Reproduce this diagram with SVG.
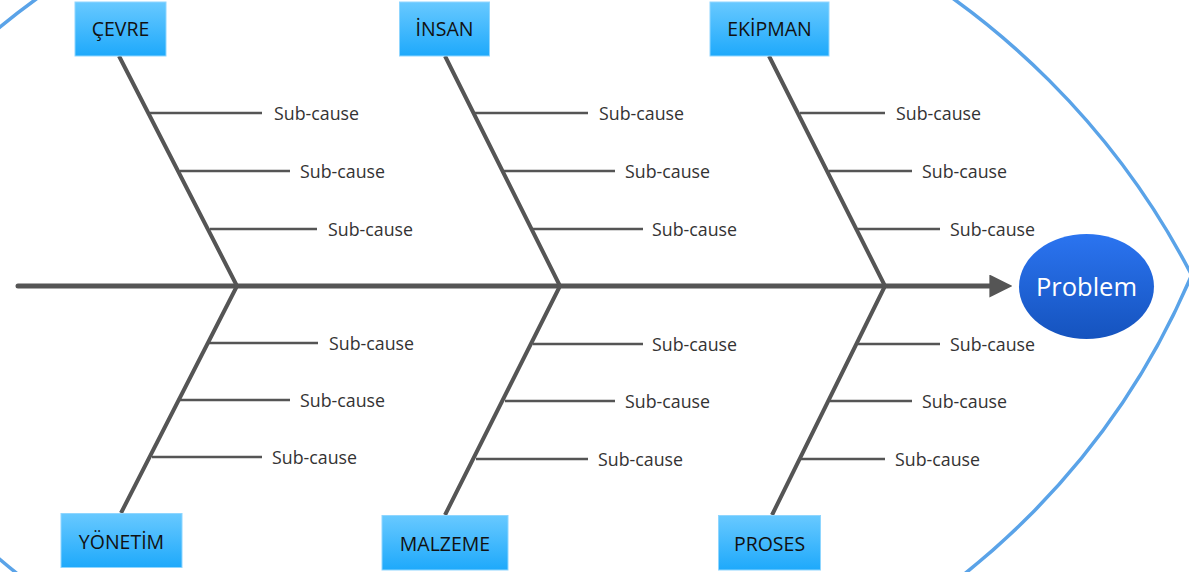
<svg xmlns="http://www.w3.org/2000/svg" width="1189" height="572" viewBox="0 0 1189 572">
  <defs>
    <linearGradient id="boxFill" x1="0" y1="0" x2="0" y2="1">
      <stop offset="0" stop-color="#68c9ff"/>
      <stop offset="1" stop-color="#1ea9fb"/>
    </linearGradient>
    <linearGradient id="headFill" x1="0" y1="0" x2="0" y2="1">
      <stop offset="0" stop-color="#2b74f0"/>
      <stop offset="1" stop-color="#1553be"/>
    </linearGradient>
    <marker id="arrow" viewBox="0 0 10 10" refX="2" refY="5" markerWidth="4.6" markerHeight="4.6" markerUnits="strokeWidth" orient="auto">
      <path d="M0,0 L10,5 L0,10 z" fill="#555555"/>
    </marker>
  </defs>
  <style>
    .box { fill: url(#boxFill); stroke: #8fd6ff; stroke-width: 1; }
    .cat { font-family: "Open Sans", "Noto Sans", sans-serif; font-size: 19.5px; fill: #111111; text-anchor: middle; }
    .sub { font-family: "Open Sans", "Noto Sans", sans-serif; font-size: 17.8px; fill: #333333; }
    .spine { stroke: #555555; stroke-width: 5; stroke-linecap: round; fill: none; }
    .bone { stroke: #555555; stroke-width: 4; fill: none; }
    .twig { stroke: #555555; stroke-width: 2.5; fill: none; }
    .outline { stroke: #5aa3e8; stroke-width: 3.5; fill: none; }
  </style>

  <rect width="1189" height="572" fill="#ffffff"/>

  <!-- fish body outline -->
  <g id="body">
    <circle class="outline" cx="495" cy="635" r="784"/>
    <circle class="outline" cx="491" cy="-22" r="761"/>
  </g>

  <g id="connectors">
    <!-- backbone -->
    <line class="spine" x1="18" y1="286" x2="994" y2="286" marker-end="url(#arrow)"/>

    <!-- main bones -->
    <polyline class="bone" points="119,56 237,286 121,513"/>
    <polyline class="bone" points="445,56 560,286 445,515"/>
    <polyline class="bone" points="769,56 885,286 772,515"/>

    <!-- sub-cause twigs, upper -->
    <line class="twig" x1="150" y1="113" x2="262" y2="113"/>
    <line class="twig" x1="180" y1="171" x2="290" y2="171"/>
    <line class="twig" x1="210" y1="229" x2="317" y2="229"/>
    <line class="twig" x1="475" y1="113" x2="588" y2="113"/>
    <line class="twig" x1="504" y1="171" x2="615" y2="171"/>
    <line class="twig" x1="533" y1="229" x2="643" y2="229"/>
    <line class="twig" x1="800" y1="113" x2="885" y2="113"/>
    <line class="twig" x1="829" y1="171" x2="912" y2="171"/>
    <line class="twig" x1="858" y1="229" x2="940" y2="229"/>

    <!-- sub-cause twigs, lower -->
    <line class="twig" x1="208" y1="343" x2="318" y2="343"/>
    <line class="twig" x1="180" y1="400" x2="290" y2="400"/>
    <line class="twig" x1="152" y1="457" x2="262" y2="457"/>
    <line class="twig" x1="533" y1="344" x2="643" y2="344"/>
    <line class="twig" x1="505" y1="401" x2="615" y2="401"/>
    <line class="twig" x1="476" y1="459" x2="588" y2="459"/>
    <line class="twig" x1="858" y1="344" x2="940" y2="344"/>
    <line class="twig" x1="830" y1="401" x2="912" y2="401"/>
    <line class="twig" x1="801" y1="459" x2="885" y2="459"/>
  </g>

  <!-- sub-cause labels -->
  <g id="subcauses">
    <text class="sub" x="274" y="120">Sub-cause</text>
    <text class="sub" x="300" y="178">Sub-cause</text>
    <text class="sub" x="328" y="236">Sub-cause</text>
    <text class="sub" x="599" y="120">Sub-cause</text>
    <text class="sub" x="625" y="178">Sub-cause</text>
    <text class="sub" x="652" y="236">Sub-cause</text>
    <text class="sub" x="896" y="120">Sub-cause</text>
    <text class="sub" x="922" y="178">Sub-cause</text>
    <text class="sub" x="950" y="236">Sub-cause</text>
    <text class="sub" x="329" y="350">Sub-cause</text>
    <text class="sub" x="300" y="407">Sub-cause</text>
    <text class="sub" x="272" y="464">Sub-cause</text>
    <text class="sub" x="652" y="351">Sub-cause</text>
    <text class="sub" x="625" y="408">Sub-cause</text>
    <text class="sub" x="598" y="466">Sub-cause</text>
    <text class="sub" x="950" y="351">Sub-cause</text>
    <text class="sub" x="922" y="408">Sub-cause</text>
    <text class="sub" x="895" y="466">Sub-cause</text>
  </g>

  <!-- category boxes -->
  <g id="cevre">
    <rect class="box" x="75" y="2" width="91" height="54"/>
    <text class="cat" x="120.5" y="36">ÇEVRE</text>
  </g>
  <g id="insan">
    <rect class="box" x="399.5" y="2" width="90" height="54"/>
    <text class="cat" x="444.5" y="36">İNSAN</text>
  </g>
  <g id="ekipman">
    <rect class="box" x="710" y="2" width="119" height="54"/>
    <text class="cat" x="769.5" y="36">EKİPMAN</text>
  </g>
  <g id="yonetim">
    <rect class="box" x="61" y="513.5" width="121" height="54"/>
    <text class="cat" x="121.5" y="548.5">YÖNETİM</text>
  </g>
  <g id="malzeme">
    <rect class="box" x="382" y="515.5" width="126" height="54.5"/>
    <text class="cat" x="445" y="550.5">MALZEME</text>
  </g>
  <g id="proses">
    <rect class="box" x="718.5" y="515.5" width="102" height="54.5"/>
    <text class="cat" x="769.5" y="550.5">PROSES</text>
  </g>

  <!-- head -->
  <g id="problem">
    <ellipse cx="1086.5" cy="286.5" rx="67.5" ry="52.5" fill="url(#headFill)"/>
    <text x="1086.5" y="296" font-family="'Open Sans', 'Noto Sans', sans-serif" font-size="25.5" fill="#ffffff" text-anchor="middle">Problem</text>
  </g>
</svg>
